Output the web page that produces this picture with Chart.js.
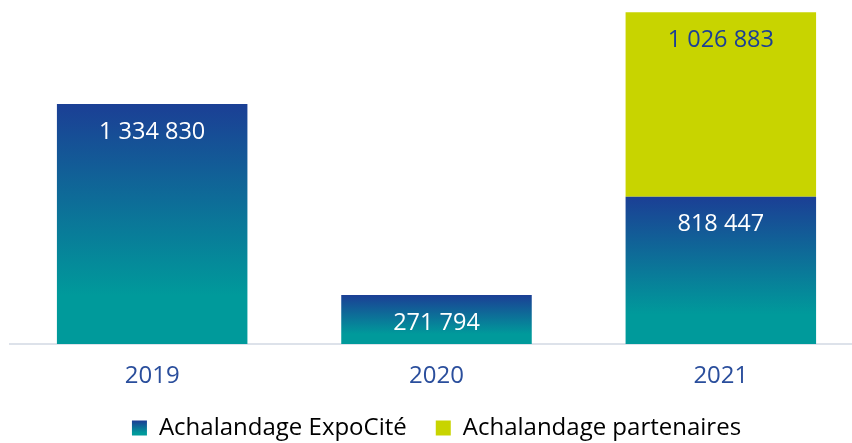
<!DOCTYPE html>
<html>
<head>
<meta charset="utf-8">
<script src="https://cdn.jsdelivr.net/npm/chart.js@4.4.1/dist/chart.umd.min.js"></script>
<style>
    html, body { margin: 0; padding: 0; background: #fff; overflow: hidden; }
    #wrap { position: relative; width: 863px; height: 443px; }
</style>
</head>
<body>
<div id="wrap"><canvas id="chart"></canvas></div>
<script>
// Données
const annees = ['2019', '2020', '2021'];
const expoCite = [1334830, 271794, 818447];
const partenaires = [null, null, 1026883];
const seriesLabels = ['Achalandage ExpoCité', 'Achalandage partenaires'];

const BLEU = '#1B3F95';
const TEXTE = '#2A4E9C';
const TURQUOISE = '#009A9B';
const LIME = '#C8D400';
const POLICE = "'Open Sans'";

/**
 * Formate un nombre avec espace comme séparateur de milliers
 */
function formatNombre(v) {
    return String(v).replace(/\B(?=(\d{3})+(?!\d))/g, ' ');
}

/**
 * Dégradé vertical bleu -> turquoise sur une hauteur donnée
 */
function degrade(ctx, top, bottom) {
    const g = ctx.createLinearGradient(0, top, 0, bottom);
    g.addColorStop(0, BLEU);
    g.addColorStop(0.8, TURQUOISE);
    g.addColorStop(1, TURQUOISE);
    return g;
}

// Applique le dégradé à chaque barre ExpoCité, selon sa propre hauteur
const degradeBarres = {
    id: 'degradeBarres',
    beforeDatasetsDraw(chart) {
        chart.getDatasetMeta(0).data.forEach((bar) => {
            bar.options = Object.assign({}, bar.options, {
                backgroundColor: degrade(chart.ctx, bar.y, bar.base)
            });
        });
    }
};

// Étiquettes de valeur dessinées en haut de chaque barre
const etiquettes = {
    id: 'etiquettes',
    afterDatasetsDraw(chart) {
        const ctx = chart.ctx;
        ctx.save();
        ctx.font = '23.5px ' + POLICE;
        ctx.textAlign = 'center';
        ctx.textBaseline = 'middle';
        chart.data.datasets.forEach((ds, i) => {
            chart.getDatasetMeta(i).data.forEach((bar, j) => {
                const v = ds.data[j];
                if (v == null) return;
                ctx.fillStyle = i === 0 ? '#ffffff' : BLEU;
                ctx.fillText(formatNombre(v), bar.x, bar.y + 28);
            });
        });
        ctx.restore();
    }
};

const canvas = document.getElementById('chart');

new Chart(canvas, {
    type: 'bar',
    data: {
        labels: annees,
        datasets: [
            {
                label: seriesLabels[0],
                data: expoCite,
                backgroundColor: BLEU,
                barPercentage: 0.67,
                categoryPercentage: 1
            },
            {
                label: seriesLabels[1],
                data: partenaires,
                backgroundColor: LIME,
                barPercentage: 0.67,
                categoryPercentage: 1
            }
        ]
    },
    options: {
        responsive: true,
        maintainAspectRatio: false,
        animation: false,
        layout: { padding: { left: 10, top: 0, right: 0, bottom: 0 } },
        plugins: {
            tooltip: { enabled: false },
            legend: {
                position: 'bottom',
                maxHeight: 56,
                labels: {
                    font: { family: POLICE, size: 24 },
                    color: TEXTE,
                    boxWidth: 15,
                    boxHeight: 15,
                    padding: 29,
                    generateLabels(chart) {
                        const h = chart.height;
                        return chart.data.datasets.map((ds, i) => ({
                            text: ds.label,
                            fillStyle: i === 0 ? degrade(chart.ctx, h - 22, h - 7) : LIME,
                            strokeStyle: 'transparent',
                            lineWidth: 0,
                            datasetIndex: i
                        }));
                    }
                }
            }
        },
        scales: {
            x: {
                stacked: true,
                grid: { display: false, drawTicks: true, tickLength: 21 },
                border: { color: '#DDE2EA', width: 2 },
                ticks: {
                    color: TEXTE,
                    font: { family: POLICE, size: 24, lineHeight: 0.92 },
                    padding: 0
                }
            },
            y: {
                stacked: true,
                display: false,
                min: 0,
                max: 1913000
            }
        }
    },
    plugins: [degradeBarres, etiquettes]
});
</script>
</body>
</html>
